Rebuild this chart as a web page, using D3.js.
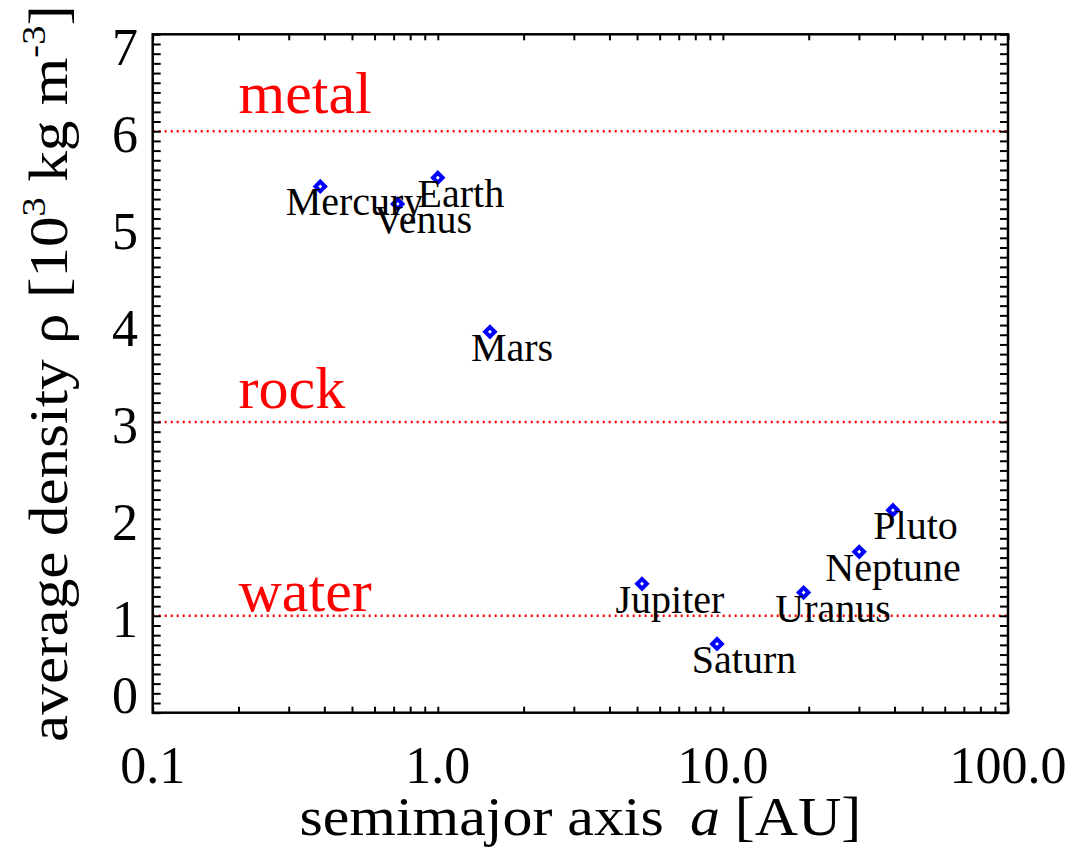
<!DOCTYPE html>
<html>
<head>
<meta charset="utf-8">
<script src="https://cdn.jsdelivr.net/npm/d3@7"></script>
<style>
body { margin: 0; background: #fff; }
text { font-family: "Liberation Serif", "Times New Roman", serif; }
</style>
</head>
<body>
<svg></svg>
<script>
var planets = ["Mercury", "Venus", "Earth", "Mars", "Jupiter", "Saturn", "Uranus", "Neptune", "Pluto"];
var semimajor = [0.387, 0.723, 1.0, 1.524, 5.203, 9.537, 19.19, 30.07, 39.48];
var density = [5.43, 5.25, 5.52, 3.93, 1.33, 0.71, 1.24, 1.66, 2.09];

var materials = ["metal", "rock", "water"];
var materialDensity = [6, 3, 1];

var xTicks = [0.1, 1, 10, 100];
var xTickLabels = ["0.1", "1.0", "10.0", "100.0"];
var yTicks = [0, 1, 2, 3, 4, 5, 6, 7];

// note: "top" is taken by window.top, so plot edges get their own names
var width = 1078,
	height = 858,
	plotLeft = 152.7,
	plotRight = 1008,
	plotTop = 34.3,
	plotBottom = 712.7;

var svg = d3.select("svg").attr("width", width).attr("height", height);

var x = d3.scaleLog().domain([0.1, 100]).range([plotLeft, plotRight]);
var y = d3.scaleLinear().domain([0, 7]).range([plotBottom, plotTop]);

// minor ticks: 1..9 in every decade, and every 0.1 on density
var xMinor = [];
[0.1, 1, 10].forEach(function(d) {
	for (var k = 1; k <= 9; k++) xMinor.push(k * d);
});
xMinor.push(100);
var yMinor = d3.range(0, 71).map(function(i) { return i / 10; });

// reference lines for the materials
svg.selectAll(".level").data(materialDensity).enter().append("line")
	.attr("class", "level")
	.attr("x1", x(0.1)).attr("x2", x(100))
	.attr("y1", function(d) { return y(d); })
	.attr("y2", function(d) { return y(d); })
	.attr("stroke", "#ff0000")
	.attr("stroke-width", 2.5)
	.attr("stroke-dasharray", "2,4");

var labelLift = [18, 14, 5];
svg.selectAll(".mat").data(materials).enter().append("text")
	.attr("class", "mat")
	.attr("x", x(0.2))
	.attr("y", function(d, i) { return y(materialDensity[i]) - labelLift[i]; })
	.attr("font-size", 60)
	.attr("fill", "#ff0000")
	.text(function(d) { return d; });

// tick marks on all four sides, pointing inward
function cleanAxis(g) {
	g.select(".domain").remove();
	g.selectAll("line").attr("stroke", "#000").attr("stroke-width", 2);
}
svg.append("g").attr("transform", "translate(0," + plotBottom + ")")
	.call(d3.axisBottom(x).tickValues(xMinor).tickSize(-6).tickFormat("")).call(cleanAxis);
svg.append("g").attr("transform", "translate(0," + plotTop + ")")
	.call(d3.axisTop(x).tickValues(xMinor).tickSize(-6).tickFormat("")).call(cleanAxis);
svg.append("g").attr("transform", "translate(" + plotLeft + ",0)")
	.call(d3.axisLeft(y).tickValues(yMinor).tickSize(-8).tickFormat("")).call(cleanAxis);
svg.append("g").attr("transform", "translate(" + plotRight + ",0)")
	.call(d3.axisRight(y).tickValues(yMinor).tickSize(-8).tickFormat("")).call(cleanAxis);

svg.append("rect")
	.attr("x", plotLeft).attr("y", plotTop)
	.attr("width", plotRight - plotLeft).attr("height", plotBottom - plotTop)
	.attr("fill", "none").attr("stroke", "#000").attr("stroke-width", 2.5);

// tick labels
svg.selectAll(".xl").data(xTicks).enter().append("text")
	.attr("class", "xl")
	.attr("x", function(d) { return x(d); })
	.attr("y", 783)
	.attr("text-anchor", "middle")
	.attr("font-size", 52)
	.text(function(d, i) { return xTickLabels[i]; });

svg.selectAll(".yl").data(yTicks).enter().append("text")
	.attr("class", "yl")
	.attr("x", 138)
	.attr("y", function(d) {
		var b = y(d) + 21;
		b = Math.max(b, plotTop - 4 + 35);
		b = Math.min(b, plotBottom);
		return b;
	})
	.attr("text-anchor", "end")
	.attr("font-size", 52)
	.text(function(d) { return d; });

// planets
var idx = d3.range(planets.length);
svg.selectAll(".pt").data(idx).enter().append("path")
	.attr("class", "pt")
	.attr("d", d3.symbol(d3.symbolSquare, 46))
	.attr("transform", function(i) {
		return "translate(" + x(semimajor[i]) + "," + y(density[i]) + ") rotate(45)";
	})
	.attr("fill", "#fff")
	.attr("stroke", "#0000ff")
	.attr("stroke-width", 4);

svg.selectAll(".name").data(idx).enter().append("text")
	.attr("class", "name")
	.attr("y", function(i) { return y(density[i]) + 29; })
	.attr("font-size", 40)
	.attr("fill", "#000")
	.text(function(i) { return planets[i]; })
	.attr("x", function(i) {
		var w = this.getComputedTextLength();
		return x(semimajor[i]) + 4 - 0.28 * w;
	});

// axis titles
var xt = svg.append("text")
	.attr("text-anchor", "middle")
	.attr("font-size", 54);
xt.append("tspan").text("semimajor axis ");
xt.append("tspan").attr("dx", 10).attr("font-style", "italic").text("a");
xt.append("tspan").text(" [AU]");
var xlen = xt.node().getComputedTextLength();
xt.attr("transform", "translate(" + (plotLeft + plotRight) / 2 + ",835) scale(" + (551 / xlen) + ",1)");

var yt = svg.append("text")
	.attr("text-anchor", "middle")
	.attr("font-size", 54);
yt.append("tspan").text("average density \u03c1 [10");
yt.append("tspan").attr("font-size", 34).attr("dy", -22).text("3");
yt.append("tspan").attr("dy", 22).text(" kg m");
yt.append("tspan").attr("font-size", 34).attr("dy", -22).text("-3");
yt.append("tspan").attr("dy", 22).text("]");
var ylen = yt.node().getComputedTextLength();
yt.attr("transform", "translate(67," + (plotTop + plotBottom) / 2 + ") rotate(-90) scale(" + (737 / ylen) + ",1)");
</script>
</body>
</html>
